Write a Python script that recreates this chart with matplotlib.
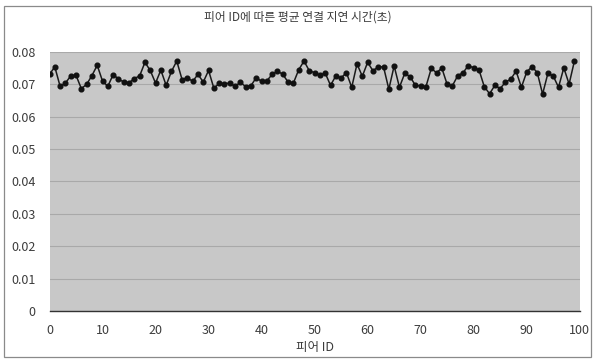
import numpy as np
import matplotlib.pyplot as plt
from matplotlib.patches import Rectangle

plt.rcParams['font.family'] = ['Noto Sans CJK KR', 'DejaVu Sans']

# 피어별 평균 연결 지연 시간 (초)
peer_ids = list(range(0, 100))
delays = [
    0.0731, 0.0754, 0.0694, 0.0704, 0.0726, 0.0728, 0.0687, 0.0700, 0.0727, 0.0759,
    0.0710, 0.0694, 0.0730, 0.0717, 0.0707, 0.0705, 0.0718, 0.0726, 0.0768, 0.0743,
    0.0704, 0.0744, 0.0697, 0.0740, 0.0772, 0.0715, 0.0721, 0.0709, 0.0731, 0.0707,
    0.0743, 0.0688, 0.0703, 0.0702, 0.0704, 0.0694, 0.0706, 0.0693, 0.0696, 0.0721,
    0.0709, 0.0711, 0.0731, 0.0741, 0.0731, 0.0707, 0.0704, 0.0745, 0.0772, 0.0742,
    0.0736, 0.0728, 0.0735, 0.0697, 0.0726, 0.0720, 0.0736, 0.0691, 0.0763, 0.0725,
    0.0768, 0.0742, 0.0754, 0.0754, 0.0685, 0.0757, 0.0691, 0.0734, 0.0724, 0.0697,
    0.0695, 0.0693, 0.0749, 0.0736, 0.0750, 0.0700, 0.0696, 0.0727, 0.0736, 0.0758,
    0.0751, 0.0745, 0.0693, 0.0671, 0.0697, 0.0687, 0.0707, 0.0716, 0.0741, 0.0691,
    0.0738, 0.0755, 0.0736, 0.0670, 0.0734, 0.0726, 0.0691, 0.0751, 0.0701, 0.0772,
]
x_ticks = list(range(0, 101, 10))
y_ticks = [0, 0.01, 0.02, 0.03, 0.04, 0.05, 0.06, 0.07, 0.08]
y_labels = ['0', '0.01', '0.02', '0.03', '0.04', '0.05', '0.06', '0.07', '0.08']

title = '피어 ID에 따른 평균 연결 지연 시간(초)'
x_label = '피어 ID'

text_color = '#3c3c3c'

fig = plt.figure(figsize=(5.95, 3.59), dpi=100)
ax = fig.add_axes([0.0832, 0.1337, 0.8911, 0.7215])
ax.set_facecolor('#c8c8c8')

ax.plot(peer_ids, delays, color='#1a1a1a', linewidth=1.1,
        marker='o', markersize=3.4, markerfacecolor='#111111',
        markeredgecolor='#111111', zorder=3)

ax.set_xlim(0, 100)
ax.set_ylim(0, 0.08)
ax.set_xticks(x_ticks)
ax.set_yticks(y_ticks)
ax.set_yticklabels(y_labels)
ax.grid(axis='y', color='#a9a9a9', linewidth=0.8)
ax.set_axisbelow(True)

ax.tick_params(axis='both', length=0, labelsize=9, colors=text_color)
ax.tick_params(axis='y', pad=10)
ax.tick_params(axis='x', pad=9)

for side in ['top', 'right', 'left']:
    ax.spines[side].set_visible(False)
ax.spines['bottom'].set_color('#333333')
ax.spines['bottom'].set_linewidth(1.0)

ax.set_xlabel(x_label, fontsize=9, color=text_color, labelpad=3)
fig.text(0.5, 0.952, title, ha='center', va='center', fontsize=8.5, color=text_color)

# 바깥 테두리
fig.patches.append(Rectangle((0.007, 0.006), 0.986, 0.978, transform=fig.transFigure,
                             fill=False, edgecolor='#8a8a8a', linewidth=0.9))

fig.savefig('out.png', dpi=100, facecolor='white')
